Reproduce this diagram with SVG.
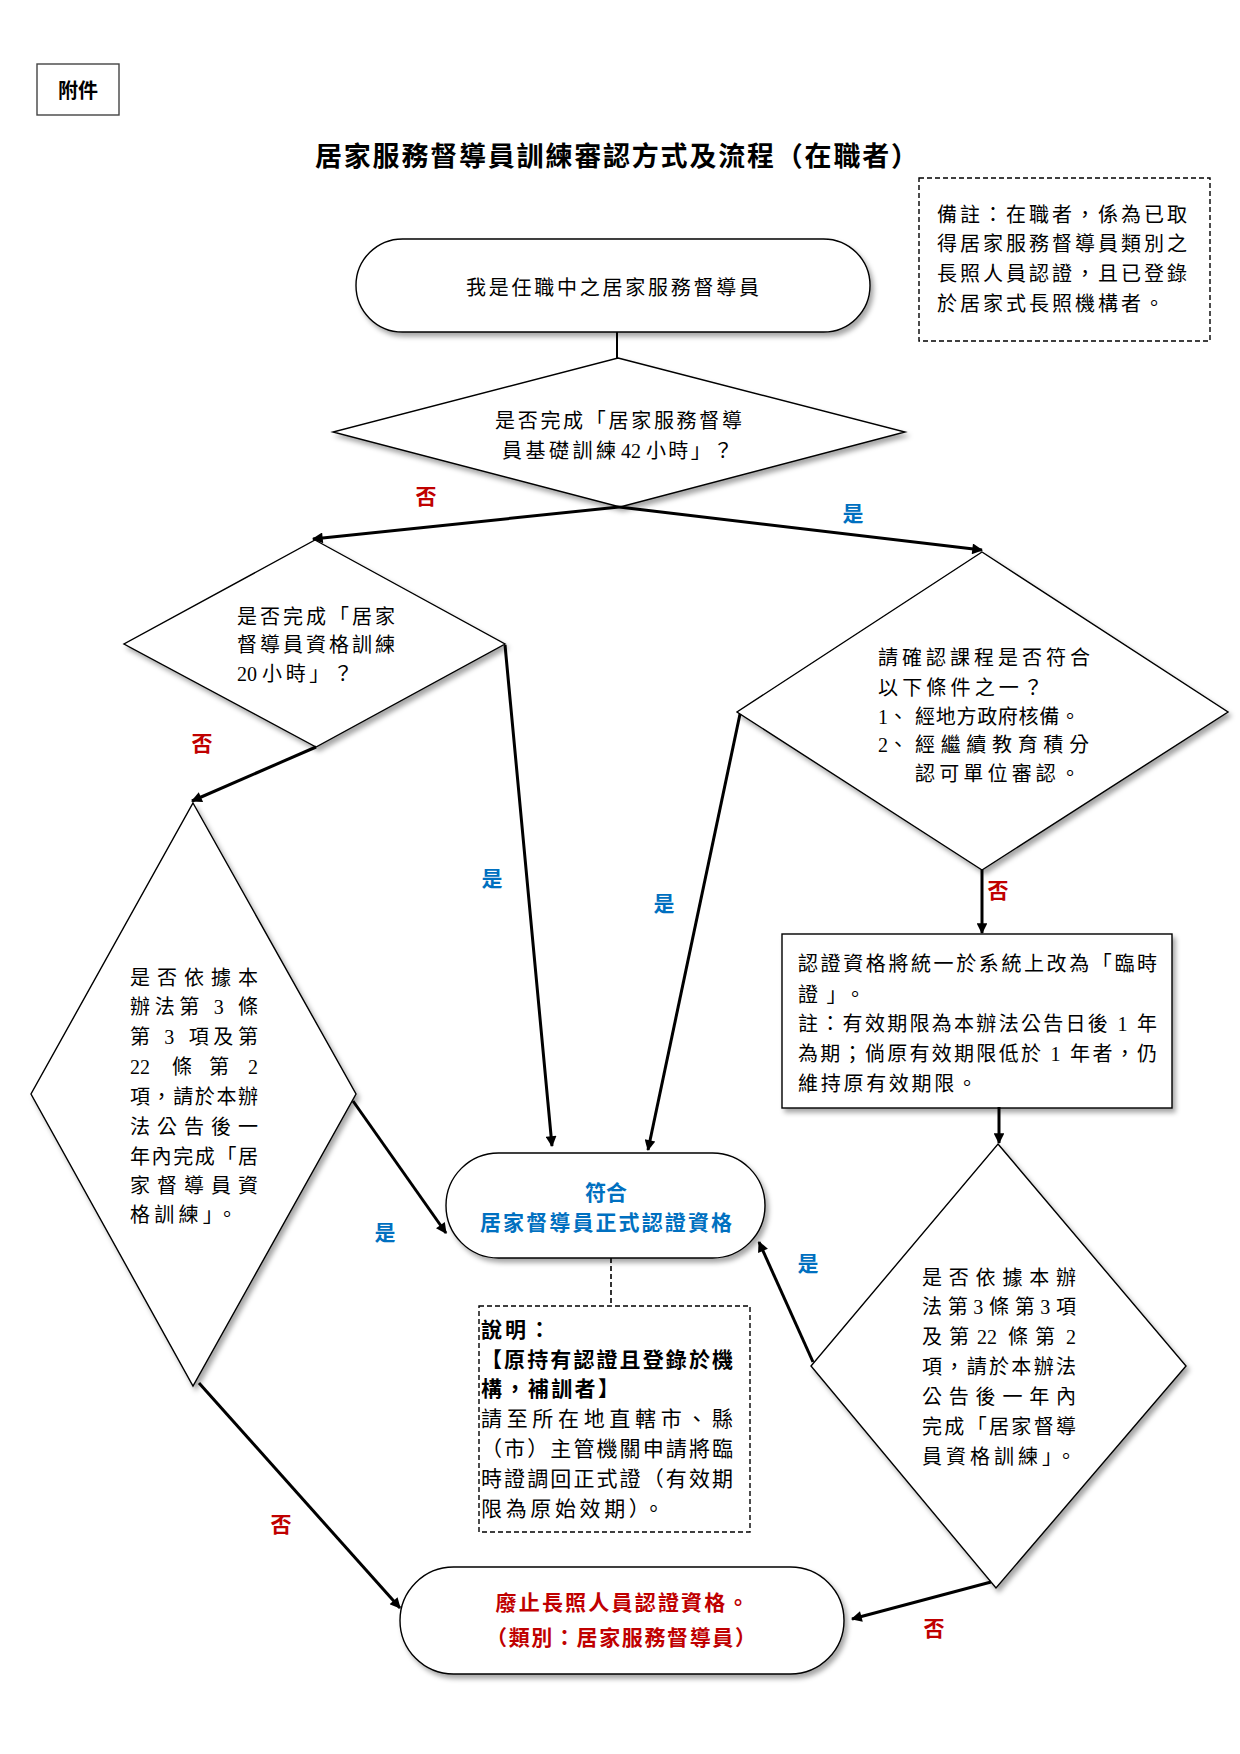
<svg xmlns="http://www.w3.org/2000/svg" width="1240" height="1754" viewBox="0 0 1240 1754">
<defs>
<style>
.t{font-family:"Liberation Serif","Noto Sans CJK TC",serif;font-size:20px;fill:#000;}
.b{font-weight:700;}
.red{fill:#C00000;font-weight:700;}
.blue{fill:#0070C0;font-weight:700;}
.lbl{font-family:"Noto Sans CJK TC",sans-serif;font-size:21px;font-weight:700;text-anchor:middle;}
.shape{fill:#fff;stroke:#000;stroke-width:1.4;}
.note{fill:#fff;stroke:#000;stroke-width:1.4;stroke-dasharray:5 3;}
.con{fill:none;stroke:#000;stroke-width:3;}
.mid{text-anchor:middle;}
</style>
<filter id="sh" x="-10%" y="-10%" width="130%" height="130%">
<feDropShadow dx="3" dy="4" stdDeviation="2.5" flood-color="#000" flood-opacity="0.35"/>
</filter>
<marker id="ah" viewBox="0 0 10 10" refX="9" refY="5" markerWidth="4.6" markerHeight="3.6" markerUnits="strokeWidth" orient="auto">
<path d="M0,0 L10,5 L0,10 z" fill="#000"/>
</marker>
</defs>
<rect width="1240" height="1754" fill="#fff"/>

<g id="attach">
<rect x="37" y="64" width="82" height="51" fill="#fff" stroke="#444" stroke-width="1.4"/>
<text class="t b mid" x="78" y="98" font-size="20">附件</text>
</g>

<g id="title">
<text class="t b" x="315" y="166" style="font-size:27px" textLength="603" lengthAdjust="spacing">居家服務督導員訓練審認方式及流程（在職者）</text>
</g>

<g id="note-remark">
<rect class="note" x="919" y="178" width="291" height="163"/>
<text class="t" x="937" y="222" textLength="250" lengthAdjust="spacing">備註：在職者，係為已取</text>
<text class="t" x="937" y="251" textLength="250" lengthAdjust="spacing">得居家服務督導員類別之</text>
<text class="t" x="937" y="281" textLength="250" lengthAdjust="spacing">長照人員認證，且已登錄</text>
<text class="t" x="937" y="311" textLength="227" lengthAdjust="spacing">於居家式長照機構者。</text>
</g>

<g id="node-start">
<rect class="shape" filter="url(#sh)" x="356" y="239" width="514" height="93" rx="46.5" ry="46.5"/>
<text class="t" x="466" y="294.5" textLength="293" lengthAdjust="spacing">我是任職中之居家服務督導員</text>
</g>

<g id="node-d1">
<polygon class="shape" filter="url(#sh)" points="618,358 905,432 620,507 333,432"/>
<text class="t" x="495" y="427.5" textLength="247" lengthAdjust="spacing">是否完成「居家服務督導</text>
<text class="t" x="502" y="457.5" textLength="114" lengthAdjust="spacing">員基礎訓練</text>
<text class="t" x="621" y="457.5">42</text>
<text class="t" x="646" y="457.5" textLength="87" lengthAdjust="spacing">小時」？</text>
</g>

<g id="node-d2">
<polygon class="shape" filter="url(#sh)" points="315,540 505,644 316,747 124,644"/>
<text class="t" x="237" y="623.5" textLength="158" lengthAdjust="spacing">是否完成「居家</text>
<text class="t" x="237" y="651.5" textLength="158" lengthAdjust="spacing">督導員資格訓練</text>
<text class="t" x="237" y="680.5">20</text>
<text class="t" x="262" y="680.5" textLength="91" lengthAdjust="spacing">小時」？</text>
</g>

<g id="node-d3">
<polygon class="shape" filter="url(#sh)" points="982,552 1228,712 982,870 737,712"/>
<text class="t" x="878" y="664.5" textLength="212" lengthAdjust="spacing">請確認課程是否符合</text>
<text class="t" x="878" y="694.5" textLength="165" lengthAdjust="spacing">以下條件之一？</text>
<text class="t" x="878" y="723.5">1、</text>
<text class="t" x="915" y="723.5" textLength="165" lengthAdjust="spacing">經地方政府核備。</text>
<text class="t" x="878" y="751.5">2、</text>
<text class="t" x="915" y="751.5" textLength="174" lengthAdjust="spacing">經繼續教育積分</text>
<text class="t" x="915" y="780.5" textLength="165" lengthAdjust="spacing">認可單位審認。</text>
</g>

<g id="node-d4">
<polygon class="shape" filter="url(#sh)" points="193,803 356,1094 193,1386 31,1094"/>
<text class="t" x="130" y="984.5" textLength="128" lengthAdjust="spacing">是否依據本</text>
<text class="t" x="130" y="1013.5" textLength="128" lengthAdjust="spacing">辦法第 3 條</text>
<text class="t" x="130" y="1043.5" textLength="128" lengthAdjust="spacing">第 3 項及第</text>
<text class="t" x="130" y="1073.5">22</text>
<text class="t" x="172" y="1073.5">條</text>
<text class="t" x="209" y="1073.5">第</text>
<text class="t" x="248" y="1073.5">2</text>
<text class="t" x="130" y="1103.5" textLength="128" lengthAdjust="spacing">項，請於本辦</text>
<text class="t" x="130" y="1133.5" textLength="128" lengthAdjust="spacing">法公告後一</text>
<text class="t" x="130" y="1163.5" textLength="128" lengthAdjust="spacing">年內完成「居</text>
<text class="t" x="130" y="1192.5" textLength="128" lengthAdjust="spacing">家督導員資</text>
<text class="t" x="130" y="1221.5" textLength="107" lengthAdjust="spacing">格訓練」。</text>
</g>

<g id="node-temp">
<rect class="shape" filter="url(#sh)" x="782" y="934" width="390" height="174"/>
<text class="t" x="798" y="970.5" textLength="359" lengthAdjust="spacing">認證資格將統一於系統上改為「臨時</text>
<text class="t" x="798" y="1001.5" textLength="67" lengthAdjust="spacing">證」。</text>
<text class="t" x="798" y="1030.5" textLength="359" lengthAdjust="spacing">註：有效期限為本辦法公告日後 1 年</text>
<text class="t" x="798" y="1060.5" textLength="359" lengthAdjust="spacing">為期；倘原有效期限低於 1 年者，仍</text>
<text class="t" x="798" y="1090.5" textLength="179" lengthAdjust="spacing">維持原有效期限。</text>
</g>

<g id="node-qualified">
<rect class="shape" filter="url(#sh)" x="446" y="1153" width="319" height="105" rx="52.5" ry="52.5"/>
<text class="t blue mid" x="606" y="1200" style="font-size:21px">符合</text>
<text class="t blue mid" x="606" y="1230" style="font-size:21px" textLength="252" lengthAdjust="spacing">居家督導員正式認證資格</text>
</g>

<g id="note-explain">
<rect class="note" x="479" y="1306" width="271" height="226"/>
<text class="t b" x="481" y="1337" style="font-size:21px" textLength="69" lengthAdjust="spacing">說明：</text>
<text class="t b" x="481" y="1367" style="font-size:21px" textLength="252" lengthAdjust="spacing">【原持有認證且登錄於機</text>
<text class="t b" x="481" y="1396" style="font-size:21px" textLength="138" lengthAdjust="spacing">構，補訓者】</text>
<text class="t" x="481" y="1426" style="font-size:21px" textLength="252" lengthAdjust="spacing">請至所在地直轄市、縣</text>
<text class="t" x="481" y="1456" style="font-size:21px" textLength="252" lengthAdjust="spacing">（市）主管機關申請將臨</text>
<text class="t" x="481" y="1486" style="font-size:21px" textLength="252" lengthAdjust="spacing">時證調回正式證（有效期</text>
<text class="t" x="481" y="1516" style="font-size:21px" textLength="183" lengthAdjust="spacing">限為原始效期）。</text>
</g>

<g id="node-d5">
<polygon class="shape" filter="url(#sh)" points="998,1144 1186,1366 996,1588 811,1366"/>
<text class="t" x="922" y="1284.5" textLength="154" lengthAdjust="spacing">是否依據本辦</text>
<text class="t" x="922" y="1313.5" textLength="154" lengthAdjust="spacing">法第3條第3項</text>
<text class="t" x="922" y="1343.5" textLength="47" lengthAdjust="spacing">及第</text>
<text class="t" x="977" y="1343.5">22</text>
<text class="t" x="1008" y="1343.5" textLength="47" lengthAdjust="spacing">條第</text>
<text class="t" x="1066" y="1343.5">2</text>
<text class="t" x="922" y="1373.5" textLength="154" lengthAdjust="spacing">項，請於本辦法</text>
<text class="t" x="922" y="1403.5" textLength="154" lengthAdjust="spacing">公告後一年內</text>
<text class="t" x="922" y="1433.5" textLength="154" lengthAdjust="spacing">完成「居家督導</text>
<text class="t" x="922" y="1463.5" textLength="154" lengthAdjust="spacing">員資格訓練」。</text>
</g>

<g id="node-revoke">
<rect class="shape" filter="url(#sh)" x="400" y="1567" width="444" height="107" rx="53.5" ry="53.5"/>
<text class="t red mid" x="622" y="1610" style="font-size:21px" textLength="253" lengthAdjust="spacing">廢止長照人員認證資格。</text>
<text class="t red mid" x="621" y="1645" style="font-size:21px" textLength="270" lengthAdjust="spacing">（類別：居家服務督導員）</text>
</g>

<g id="connectors">
<line x1="617" y1="332" x2="617" y2="358" stroke="#000" stroke-width="2"/>
<line class="con" x1="619" y1="507" x2="313" y2="539" marker-end="url(#ah)"/>
<line class="con" x1="619" y1="507" x2="982" y2="550" marker-end="url(#ah)"/>
<line class="con" x1="505" y1="645" x2="552" y2="1146" marker-end="url(#ah)"/>
<line class="con" x1="740" y1="714" x2="648" y2="1150" marker-end="url(#ah)"/>
<line class="con" x1="982" y1="870" x2="982" y2="933" marker-end="url(#ah)"/>
<line class="con" x1="999" y1="1107" x2="999" y2="1143" marker-end="url(#ah)"/>
<line class="con" x1="813" y1="1362" x2="759" y2="1242" marker-end="url(#ah)"/>
<line class="con" x1="991" y1="1582" x2="852" y2="1619" marker-end="url(#ah)"/>
<line class="con" x1="316" y1="747" x2="192" y2="801" marker-end="url(#ah)"/>
<line class="con" x1="353" y1="1101" x2="446" y2="1233" marker-end="url(#ah)"/>
<line class="con" x1="199" y1="1383" x2="400" y2="1608" marker-end="url(#ah)"/>
<line x1="611" y1="1258" x2="611" y2="1306" stroke="#000" stroke-width="1.6" stroke-dasharray="5 3"/>
</g>

<g id="labels">
<text class="lbl" fill="#C00000" x="426" y="504">否</text>
<text class="lbl" fill="#0070C0" x="853" y="521">是</text>
<text class="lbl" fill="#C00000" x="202" y="751">否</text>
<text class="lbl" fill="#0070C0" x="492" y="886">是</text>
<text class="lbl" fill="#0070C0" x="664" y="911">是</text>
<text class="lbl" fill="#C00000" x="998" y="898">否</text>
<text class="lbl" fill="#0070C0" x="385" y="1240">是</text>
<text class="lbl" fill="#0070C0" x="808" y="1271">是</text>
<text class="lbl" fill="#C00000" x="281" y="1532">否</text>
<text class="lbl" fill="#C00000" x="934" y="1636">否</text>
</g>
</svg>
